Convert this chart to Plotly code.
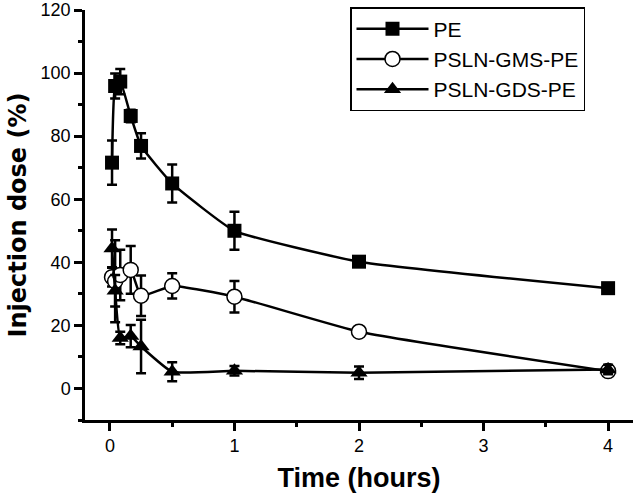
import plotly.graph_objects as go

# Time points (hours)
time_h = [0.017, 0.042, 0.083, 0.167, 0.25, 0.5, 1, 2, 4]

series_names = ["PE", "PSLN-GMS-PE", "PSLN-GDS-PE"]

pe_vals = [71.6, 95.9, 97.3, 86.4, 76.9, 65.0, 50.0, 40.2, 31.8]
pe_err = [7.0, 4.0, 4.0, 2.0, 4.0, 6.0, 6.0, 1.5, 1.0]

gms_vals = [35.3, 34.0, 36.0, 37.6, 29.4, 32.5, 29.1, 18.0, 5.5]
gms_err = [3.0, 13.0, 8.0, 7.6, 6.4, 4.0, 5.0, 1.5, 1.0]

gds_vals = [44.4, 31.0, 16.0, 16.6, 13.3, 5.3, 5.6, 5.0, 6.0]
gds_err = [6.0, 5.0, 2.0, 3.5, 8.5, 3.0, 1.5, 2.0, 1.5]

x_ticks = [0, 1, 2, 3, 4]
y_ticks = [0, 20, 40, 60, 80, 100, 120]

black = "#000000"
LW = 2.5

def err(vals):
    return dict(type="data", array=vals, visible=True, color=black,
                thickness=2.5, width=5)

fig = go.Figure()

fig.add_trace(go.Scatter(
    x=time_h, y=gms_vals, name=series_names[1], legendrank=2,
    mode="lines+markers",
    line=dict(color=black, width=LW, shape="spline", smoothing=0.4),
    marker=dict(symbol="circle", size=15, color="white",
                line=dict(color=black, width=1.5)),
    error_y=err(gms_err),
))
fig.add_trace(go.Scatter(
    x=time_h, y=gds_vals, name=series_names[2], legendrank=3,
    mode="lines+markers",
    line=dict(color=black, width=LW, shape="spline", smoothing=0.4),
    marker=dict(symbol="triangle-up", size=15, color=black,
                line=dict(color=black, width=0)),
    error_y=err(gds_err),
))
fig.add_trace(go.Scatter(
    x=time_h, y=pe_vals, name=series_names[0], legendrank=1,
    mode="lines+markers",
    line=dict(color=black, width=LW, shape="spline", smoothing=0.4),
    marker=dict(symbol="square", size=14, color=black,
                line=dict(color=black, width=0)),
    error_y=err(pe_err),
))

tick_font = dict(family="Liberation Sans, Arial, sans-serif", size=18, color=black)

fig.update_layout(
    width=636, height=499,
    margin=dict(l=85, r=3, t=10, b=79, autoexpand=False),
    paper_bgcolor="white", plot_bgcolor="white",
    showlegend=True,
    legend=dict(
        xref="container", yref="container",
        x=350 / 636, y=1 - 7 / 499,
        xanchor="left", yanchor="top",
        bordercolor=black, borderwidth=1.5, bgcolor="white",
        font=dict(family="Liberation Sans, Arial, sans-serif", size=21, color=black),
        itemwidth=72,
        traceorder="normal",
    ),
    xaxis=dict(
        range=[-0.2, 4.2], automargin=False,
        tickvals=x_ticks, ticktext=[str(v) for v in x_ticks],
        showline=True, linecolor=black, linewidth=LW,
        ticks="outside", ticklen=8, tickwidth=LW, tickcolor=black,
        minor=dict(dtick=0.5, tick0=0, ticks="outside", ticklen=4,
                   tickwidth=LW, tickcolor=black),
        showgrid=False, zeroline=False,
        tickfont=tick_font,
        title=dict(text="<b>Time (hours)</b>",
                   font=dict(family="Liberation Sans Narrow, Liberation Sans, Arial, sans-serif",
                             size=27, color=black),
                   standoff=13),
    ),
    yaxis=dict(
        range=[-10, 120], automargin=False,
        tickvals=y_ticks, ticktext=[str(v) for v in y_ticks],
        showline=True, linecolor=black, linewidth=LW,
        ticks="outside", ticklen=8, tickwidth=LW, tickcolor=black,
        minor=dict(dtick=10, tick0=0, ticks="outside", ticklen=4,
                   tickwidth=LW, tickcolor=black),
        showgrid=False, zeroline=False,
        tickfont=tick_font,
        title=dict(text="<b>Injection dose (%)</b>",
                   font=dict(family="DejaVu Sans, sans-serif", size=24, color=black),
                   standoff=8),
    ),
)

fig.write_html("out.html",
               config={"displayModeBar": False},
               post_script="document.body.style.margin='0';document.body.style.overflow='hidden';")
